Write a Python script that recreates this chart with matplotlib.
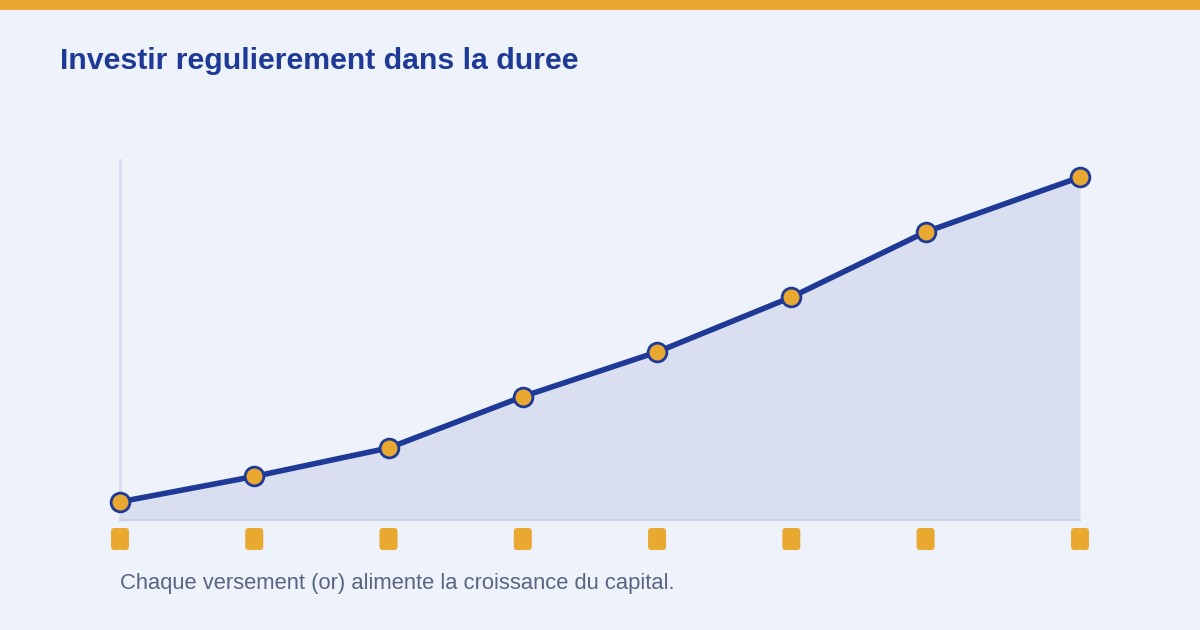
import matplotlib.pyplot as plt
from matplotlib.patches import FancyBboxPatch, Rectangle

# data
periods = [0, 1, 2, 3, 4, 5, 6, 7.15]
capital = [5.3, 12.7, 21.0, 36.0, 49.0, 65.0, 84.0, 100.0]

title = "Investir regulierement dans la duree"
note = "Chaque versement (or) alimente la croissance du capital."

bg = '#eef2fa'
blue = '#1f3a96'
gold = '#e9a830'

plt.rcParams['font.family'] = ['Liberation Sans', 'DejaVu Sans']

fig = plt.figure(figsize=(12, 6.3), dpi=100, facecolor=bg)

# overlay in pixel units for decorations
deco = fig.add_axes([0, 0, 1, 1], zorder=0)
deco.set_xlim(0, 1200)
deco.set_ylim(630, 0)
deco.axis('off')
deco.add_patch(Rectangle((0, 0), 1200, 10, color=gold, lw=0))

ax = fig.add_axes([0.1, 1 - 520/630, 0.8, 360/630], zorder=1)
ax.set_facecolor('none')
ax.set_xlim(periods[0], periods[-1])
ax.set_ylim(0, max(capital) * 1.05)

ax.fill_between(periods, capital, 0, color='#d9dff0', lw=0)
ax.plot(periods, capital, color=blue, lw=4, solid_capstyle='round', zorder=3,
        marker='o', markersize=13.5, markerfacecolor=gold,
        markeredgecolor=blue, markeredgewidth=2, clip_on=False)

for s in ['top', 'right']:
    ax.spines[s].set_visible(False)
ax.spines['left'].set_color('#d6ddf0')
ax.spines['left'].set_linewidth(2)
ax.spines['bottom'].set_color('#cdd4e8')
ax.spines['bottom'].set_linewidth(1.5)
ax.set_xticks([])
ax.set_yticks([])

# gold tags under each payment
for p in periods:
    px = ax.transData.transform((p, 0))[0]
    deco.add_patch(FancyBboxPatch((px - 9, 528), 18, 22,
                                  boxstyle='round,pad=0,rounding_size=3.5',
                                  fc=gold, ec='none'))

fig.text(60/1200, 1 - 69/630, title, fontsize=21.8, fontweight='bold',
         color=blue, va='baseline', ha='left')
fig.text(120/1200, 1 - 589/630, note, fontsize=15.8, color='#5a6482',
         va='baseline', ha='left')

fig.savefig('out.png', dpi=100, facecolor=bg)
